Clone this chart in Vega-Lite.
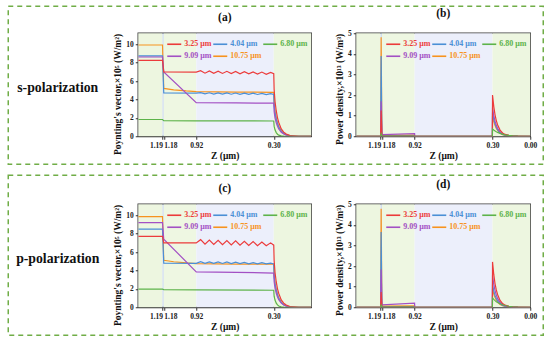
{
"$schema": "https://vega.github.io/schema/vega-lite/v6.json",
"padding": {"left": 7.25, "top": 5.25, "right": 0, "bottom": 0},
"background": "white",
"config": {
 "font": "Liberation Serif",
 "axis": {"labelFont": "Liberation Serif", "labelFontWeight": "bold", "labelFontSize": 7.5, "labelColor": "#222", "titleFont": "Liberation Serif", "titleFontWeight": "bold", "titleFontSize": 9.5, "titleColor": "#111", "domainColor": "#333", "tickColor": "#333", "grid": false, "labelPadding": 2, "titlePadding": 3, "tickSize": 3},
 "axisY": {"titleAnchor": "end"},
 "title": {"font": "Liberation Serif", "fontWeight": "bold", "fontSize": 11.5, "color": "#111", "offset": 10},
 "legend": {"orient": "top-right", "direction": "horizontal", "offset": 3, "columns": 3, "title": null, "symbolType": "stroke", "symbolSize": 196, "symbolStrokeWidth": 1.6, "labelFont": "Liberation Serif", "labelFontSize": 8, "labelFontWeight": "bold", "labelOffset": 2, "columnPadding": -10, "rowPadding": 0, "padding": 0,
  "labelColor": {"expr": "['#ec3b3b','#4a8fd6','#5db34a','#a350c4','#f7931e'][indexof(['3.25 μm','4.04 μm','6.80 μm','9.09 μm','10.75 μm'], datum.value)]"}}
},
"datasets": {
 "regions": [
  {"reg": "inc", "z1": 1.384, "z2": 1.19},
  {"reg": "thin", "z1": 1.19, "z2": 1.18},
  {"reg": "l2", "z1": 1.18, "z2": 0.92},
  {"reg": "l3", "z1": 0.92, "z2": 0.3},
  {"reg": "sub", "z1": 0.3, "z2": 0}
 ],
 "lines": [
  {"p":"a","s":"10.75 μm","z":1.384,"v":9.92},{"p":"a","s":"10.75 μm","z":1.19,"v":9.92},{"p":"a","s":"10.75 μm","z":1.18,"v":5.2},{"p":"a","s":"10.75 μm","z":1.1,"v":5.05},{"p":"a","s":"10.75 μm","z":1.0,"v":4.93},{"p":"a","s":"10.75 μm","z":0.92,"v":4.86},{"p":"a","s":"10.75 μm","z":0.6,"v":4.8},{"p":"a","s":"10.75 μm","z":0.3,"v":4.78},{"p":"a","s":"10.75 μm","z":0.297,"v":3.6},{"p":"a","s":"10.75 μm","z":0.29,"v":2.7},{"p":"a","s":"10.75 μm","z":0.28,"v":1.95},{"p":"a","s":"10.75 μm","z":0.27,"v":1.45},{"p":"a","s":"10.75 μm","z":0.26,"v":1.05},{"p":"a","s":"10.75 μm","z":0.24,"v":0.58},{"p":"a","s":"10.75 μm","z":0.22,"v":0.32},{"p":"a","s":"10.75 μm","z":0.2,"v":0.17},{"p":"a","s":"10.75 μm","z":0.17,"v":0.06},{"p":"a","s":"10.75 μm","z":0.14,"v":0.02},{"p":"a","s":"10.75 μm","z":0.1,"v":0},{"p":"a","s":"10.75 μm","z":0,"v":0},
  {"p":"a","s":"4.04 μm","z":1.384,"v":8.75},{"p":"a","s":"4.04 μm","z":1.19,"v":8.75},{"p":"a","s":"4.04 μm","z":1.18,"v":4.72},{"p":"a","s":"4.04 μm","z":0.92,"v":4.68},{"p":"a","s":"4.04 μm","z":0.885,"v":4.74},{"p":"a","s":"4.04 μm","z":0.85,"v":4.6},{"p":"a","s":"4.04 μm","z":0.815,"v":4.73},{"p":"a","s":"4.04 μm","z":0.78,"v":4.59},{"p":"a","s":"4.04 μm","z":0.745,"v":4.72},{"p":"a","s":"4.04 μm","z":0.71,"v":4.58},{"p":"a","s":"4.04 μm","z":0.675,"v":4.71},{"p":"a","s":"4.04 μm","z":0.64,"v":4.57},{"p":"a","s":"4.04 μm","z":0.605,"v":4.7},{"p":"a","s":"4.04 μm","z":0.57,"v":4.56},{"p":"a","s":"4.04 μm","z":0.535,"v":4.69},{"p":"a","s":"4.04 μm","z":0.5,"v":4.55},{"p":"a","s":"4.04 μm","z":0.465,"v":4.68},{"p":"a","s":"4.04 μm","z":0.43,"v":4.54},{"p":"a","s":"4.04 μm","z":0.395,"v":4.67},{"p":"a","s":"4.04 μm","z":0.36,"v":4.53},{"p":"a","s":"4.04 μm","z":0.325,"v":4.64},{"p":"a","s":"4.04 μm","z":0.3,"v":4.55},{"p":"a","s":"4.04 μm","z":0.297,"v":3.4},{"p":"a","s":"4.04 μm","z":0.29,"v":2.55},{"p":"a","s":"4.04 μm","z":0.28,"v":1.85},{"p":"a","s":"4.04 μm","z":0.27,"v":1.37},{"p":"a","s":"4.04 μm","z":0.26,"v":1.0},{"p":"a","s":"4.04 μm","z":0.24,"v":0.55},{"p":"a","s":"4.04 μm","z":0.22,"v":0.3},{"p":"a","s":"4.04 μm","z":0.2,"v":0.16},{"p":"a","s":"4.04 μm","z":0.17,"v":0.055},{"p":"a","s":"4.04 μm","z":0.14,"v":0.018},{"p":"a","s":"4.04 μm","z":0.1,"v":0},{"p":"a","s":"4.04 μm","z":0,"v":0},
  {"p":"a","s":"9.09 μm","z":1.384,"v":8.62},{"p":"a","s":"9.09 μm","z":1.19,"v":8.62},{"p":"a","s":"9.09 μm","z":1.18,"v":7.0},{"p":"a","s":"9.09 μm","z":0.92,"v":3.66},{"p":"a","s":"9.09 μm","z":0.6,"v":3.62},{"p":"a","s":"9.09 μm","z":0.3,"v":3.6},{"p":"a","s":"9.09 μm","z":0.297,"v":2.7},{"p":"a","s":"9.09 μm","z":0.29,"v":2.0},{"p":"a","s":"9.09 μm","z":0.28,"v":1.47},{"p":"a","s":"9.09 μm","z":0.27,"v":1.08},{"p":"a","s":"9.09 μm","z":0.26,"v":0.8},{"p":"a","s":"9.09 μm","z":0.24,"v":0.43},{"p":"a","s":"9.09 μm","z":0.22,"v":0.24},{"p":"a","s":"9.09 μm","z":0.2,"v":0.13},{"p":"a","s":"9.09 μm","z":0.17,"v":0.045},{"p":"a","s":"9.09 μm","z":0.14,"v":0.015},{"p":"a","s":"9.09 μm","z":0.1,"v":0},{"p":"a","s":"9.09 μm","z":0,"v":0},
  {"p":"a","s":"3.25 μm","z":1.384,"v":8.25},{"p":"a","s":"3.25 μm","z":1.19,"v":8.25},{"p":"a","s":"3.25 μm","z":1.18,"v":7.0},{"p":"a","s":"3.25 μm","z":0.92,"v":6.97},{"p":"a","s":"3.25 μm","z":0.885,"v":7.12},{"p":"a","s":"3.25 μm","z":0.85,"v":6.86},{"p":"a","s":"3.25 μm","z":0.815,"v":7.1},{"p":"a","s":"3.25 μm","z":0.78,"v":6.85},{"p":"a","s":"3.25 μm","z":0.745,"v":7.08},{"p":"a","s":"3.25 μm","z":0.71,"v":6.83},{"p":"a","s":"3.25 μm","z":0.675,"v":7.06},{"p":"a","s":"3.25 μm","z":0.64,"v":6.82},{"p":"a","s":"3.25 μm","z":0.605,"v":7.04},{"p":"a","s":"3.25 μm","z":0.57,"v":6.8},{"p":"a","s":"3.25 μm","z":0.535,"v":7.02},{"p":"a","s":"3.25 μm","z":0.5,"v":6.78},{"p":"a","s":"3.25 μm","z":0.465,"v":7.0},{"p":"a","s":"3.25 μm","z":0.43,"v":6.76},{"p":"a","s":"3.25 μm","z":0.395,"v":6.98},{"p":"a","s":"3.25 μm","z":0.36,"v":6.74},{"p":"a","s":"3.25 μm","z":0.325,"v":6.95},{"p":"a","s":"3.25 μm","z":0.3,"v":6.8},{"p":"a","s":"3.25 μm","z":0.297,"v":5.1},{"p":"a","s":"3.25 μm","z":0.29,"v":3.8},{"p":"a","s":"3.25 μm","z":0.28,"v":2.75},{"p":"a","s":"3.25 μm","z":0.27,"v":2.0},{"p":"a","s":"3.25 μm","z":0.26,"v":1.5},{"p":"a","s":"3.25 μm","z":0.24,"v":0.8},{"p":"a","s":"3.25 μm","z":0.22,"v":0.45},{"p":"a","s":"3.25 μm","z":0.2,"v":0.24},{"p":"a","s":"3.25 μm","z":0.17,"v":0.08},{"p":"a","s":"3.25 μm","z":0.14,"v":0.03},{"p":"a","s":"3.25 μm","z":0.1,"v":0},{"p":"a","s":"3.25 μm","z":0,"v":0},
  {"p":"a","s":"6.80 μm","z":1.384,"v":1.82},{"p":"a","s":"6.80 μm","z":1.19,"v":1.82},{"p":"a","s":"6.80 μm","z":1.18,"v":1.7},{"p":"a","s":"6.80 μm","z":0.92,"v":1.68},{"p":"a","s":"6.80 μm","z":0.3,"v":1.66},{"p":"a","s":"6.80 μm","z":0.297,"v":1.1},{"p":"a","s":"6.80 μm","z":0.29,"v":0.7},{"p":"a","s":"6.80 μm","z":0.28,"v":0.4},{"p":"a","s":"6.80 μm","z":0.27,"v":0.22},{"p":"a","s":"6.80 μm","z":0.26,"v":0.12},{"p":"a","s":"6.80 μm","z":0.24,"v":0.04},{"p":"a","s":"6.80 μm","z":0.22,"v":0.01},{"p":"a","s":"6.80 μm","z":0.2,"v":0},{"p":"a","s":"6.80 μm","z":0,"v":0},

  {"p":"c","s":"10.75 μm","z":1.384,"v":9.85},{"p":"c","s":"10.75 μm","z":1.19,"v":9.85},{"p":"c","s":"10.75 μm","z":1.18,"v":5.1},{"p":"c","s":"10.75 μm","z":1.1,"v":4.95},{"p":"c","s":"10.75 μm","z":1.0,"v":4.82},{"p":"c","s":"10.75 μm","z":0.92,"v":4.75},{"p":"c","s":"10.75 μm","z":0.6,"v":4.7},{"p":"c","s":"10.75 μm","z":0.3,"v":4.68},{"p":"c","s":"10.75 μm","z":0.297,"v":3.5},{"p":"c","s":"10.75 μm","z":0.29,"v":2.6},{"p":"c","s":"10.75 μm","z":0.28,"v":1.9},{"p":"c","s":"10.75 μm","z":0.27,"v":1.4},{"p":"c","s":"10.75 μm","z":0.26,"v":1.03},{"p":"c","s":"10.75 μm","z":0.24,"v":0.56},{"p":"c","s":"10.75 μm","z":0.22,"v":0.31},{"p":"c","s":"10.75 μm","z":0.2,"v":0.16},{"p":"c","s":"10.75 μm","z":0.17,"v":0.056},{"p":"c","s":"10.75 μm","z":0.14,"v":0.019},{"p":"c","s":"10.75 μm","z":0.1,"v":0},{"p":"c","s":"10.75 μm","z":0,"v":0},
  {"p":"c","s":"4.04 μm","z":1.384,"v":8.5},{"p":"c","s":"4.04 μm","z":1.19,"v":8.5},{"p":"c","s":"4.04 μm","z":1.18,"v":4.8},{"p":"c","s":"4.04 μm","z":0.92,"v":4.78},{"p":"c","s":"4.04 μm","z":0.885,"v":4.95},{"p":"c","s":"4.04 μm","z":0.85,"v":4.78},{"p":"c","s":"4.04 μm","z":0.815,"v":4.94},{"p":"c","s":"4.04 μm","z":0.78,"v":4.77},{"p":"c","s":"4.04 μm","z":0.745,"v":4.93},{"p":"c","s":"4.04 μm","z":0.71,"v":4.76},{"p":"c","s":"4.04 μm","z":0.675,"v":4.92},{"p":"c","s":"4.04 μm","z":0.64,"v":4.75},{"p":"c","s":"4.04 μm","z":0.605,"v":4.9},{"p":"c","s":"4.04 μm","z":0.57,"v":4.74},{"p":"c","s":"4.04 μm","z":0.535,"v":4.88},{"p":"c","s":"4.04 μm","z":0.5,"v":4.73},{"p":"c","s":"4.04 μm","z":0.465,"v":4.86},{"p":"c","s":"4.04 μm","z":0.43,"v":4.72},{"p":"c","s":"4.04 μm","z":0.395,"v":4.84},{"p":"c","s":"4.04 μm","z":0.36,"v":4.71},{"p":"c","s":"4.04 μm","z":0.325,"v":4.8},{"p":"c","s":"4.04 μm","z":0.3,"v":4.7},{"p":"c","s":"4.04 μm","z":0.297,"v":3.45},{"p":"c","s":"4.04 μm","z":0.29,"v":2.55},{"p":"c","s":"4.04 μm","z":0.28,"v":1.85},{"p":"c","s":"4.04 μm","z":0.27,"v":1.35},{"p":"c","s":"4.04 μm","z":0.26,"v":0.98},{"p":"c","s":"4.04 μm","z":0.24,"v":0.52},{"p":"c","s":"4.04 μm","z":0.22,"v":0.28},{"p":"c","s":"4.04 μm","z":0.2,"v":0.14},{"p":"c","s":"4.04 μm","z":0.17,"v":0.05},{"p":"c","s":"4.04 μm","z":0.14,"v":0.015},{"p":"c","s":"4.04 μm","z":0.1,"v":0},{"p":"c","s":"4.04 μm","z":0,"v":0},
  {"p":"c","s":"9.09 μm","z":1.384,"v":9.2},{"p":"c","s":"9.09 μm","z":1.19,"v":9.2},{"p":"c","s":"9.09 μm","z":1.18,"v":7.4},{"p":"c","s":"9.09 μm","z":0.92,"v":3.85},{"p":"c","s":"9.09 μm","z":0.6,"v":3.8},{"p":"c","s":"9.09 μm","z":0.3,"v":3.72},{"p":"c","s":"9.09 μm","z":0.297,"v":2.8},{"p":"c","s":"9.09 μm","z":0.29,"v":2.08},{"p":"c","s":"9.09 μm","z":0.28,"v":1.52},{"p":"c","s":"9.09 μm","z":0.27,"v":1.12},{"p":"c","s":"9.09 μm","z":0.26,"v":0.82},{"p":"c","s":"9.09 μm","z":0.24,"v":0.45},{"p":"c","s":"9.09 μm","z":0.22,"v":0.25},{"p":"c","s":"9.09 μm","z":0.2,"v":0.13},{"p":"c","s":"9.09 μm","z":0.17,"v":0.045},{"p":"c","s":"9.09 μm","z":0.14,"v":0.015},{"p":"c","s":"9.09 μm","z":0.1,"v":0},{"p":"c","s":"9.09 μm","z":0,"v":0},
  {"p":"c","s":"3.25 μm","z":1.384,"v":7.7},{"p":"c","s":"3.25 μm","z":1.19,"v":7.7},{"p":"c","s":"3.25 μm","z":1.18,"v":7.0},{"p":"c","s":"3.25 μm","z":0.92,"v":7.0},{"p":"c","s":"3.25 μm","z":0.885,"v":7.35},{"p":"c","s":"3.25 μm","z":0.85,"v":6.85},{"p":"c","s":"3.25 μm","z":0.815,"v":7.3},{"p":"c","s":"3.25 μm","z":0.78,"v":6.83},{"p":"c","s":"3.25 μm","z":0.745,"v":7.28},{"p":"c","s":"3.25 μm","z":0.71,"v":6.8},{"p":"c","s":"3.25 μm","z":0.675,"v":7.25},{"p":"c","s":"3.25 μm","z":0.64,"v":6.78},{"p":"c","s":"3.25 μm","z":0.605,"v":7.22},{"p":"c","s":"3.25 μm","z":0.57,"v":6.75},{"p":"c","s":"3.25 μm","z":0.535,"v":7.18},{"p":"c","s":"3.25 μm","z":0.5,"v":6.72},{"p":"c","s":"3.25 μm","z":0.465,"v":7.15},{"p":"c","s":"3.25 μm","z":0.43,"v":6.7},{"p":"c","s":"3.25 μm","z":0.395,"v":7.1},{"p":"c","s":"3.25 μm","z":0.36,"v":6.68},{"p":"c","s":"3.25 μm","z":0.325,"v":7.0},{"p":"c","s":"3.25 μm","z":0.3,"v":6.75},{"p":"c","s":"3.25 μm","z":0.297,"v":5.1},{"p":"c","s":"3.25 μm","z":0.29,"v":3.8},{"p":"c","s":"3.25 μm","z":0.28,"v":2.75},{"p":"c","s":"3.25 μm","z":0.27,"v":2.0},{"p":"c","s":"3.25 μm","z":0.26,"v":1.5},{"p":"c","s":"3.25 μm","z":0.24,"v":0.8},{"p":"c","s":"3.25 μm","z":0.22,"v":0.45},{"p":"c","s":"3.25 μm","z":0.2,"v":0.24},{"p":"c","s":"3.25 μm","z":0.17,"v":0.08},{"p":"c","s":"3.25 μm","z":0.14,"v":0.03},{"p":"c","s":"3.25 μm","z":0.1,"v":0},{"p":"c","s":"3.25 μm","z":0,"v":0},
  {"p":"c","s":"6.80 μm","z":1.384,"v":1.97},{"p":"c","s":"6.80 μm","z":1.19,"v":1.97},{"p":"c","s":"6.80 μm","z":1.18,"v":1.92},{"p":"c","s":"6.80 μm","z":0.92,"v":1.9},{"p":"c","s":"6.80 μm","z":0.3,"v":1.85},{"p":"c","s":"6.80 μm","z":0.297,"v":1.2},{"p":"c","s":"6.80 μm","z":0.29,"v":0.78},{"p":"c","s":"6.80 μm","z":0.28,"v":0.45},{"p":"c","s":"6.80 μm","z":0.27,"v":0.25},{"p":"c","s":"6.80 μm","z":0.26,"v":0.13},{"p":"c","s":"6.80 μm","z":0.24,"v":0.045},{"p":"c","s":"6.80 μm","z":0.22,"v":0.012},{"p":"c","s":"6.80 μm","z":0.2,"v":0},{"p":"c","s":"6.80 μm","z":0,"v":0},

  {"p":"b","s":"10.75 μm","z":1.384,"v":0},{"p":"b","s":"10.75 μm","z":1.19,"v":0},{"p":"b","s":"10.75 μm","z":1.186,"v":4.8},{"p":"b","s":"10.75 μm","z":1.18,"v":0.04},{"p":"b","s":"10.75 μm","z":0.92,"v":0.05},{"p":"b","s":"10.75 μm","z":0.919,"v":0},{"p":"b","s":"10.75 μm","z":0.301,"v":0},{"p":"b","s":"10.75 μm","z":0.3,"v":1.0},{"p":"b","s":"10.75 μm","z":0.29,"v":0.72},{"p":"b","s":"10.75 μm","z":0.28,"v":0.52},{"p":"b","s":"10.75 μm","z":0.27,"v":0.38},{"p":"b","s":"10.75 μm","z":0.26,"v":0.28},{"p":"b","s":"10.75 μm","z":0.24,"v":0.15},{"p":"b","s":"10.75 μm","z":0.22,"v":0.08},{"p":"b","s":"10.75 μm","z":0.2,"v":0.045},{"p":"b","s":"10.75 μm","z":0.17,"v":0.02},{"p":"b","s":"10.75 μm","z":0.14,"v":0.008},{"p":"b","s":"10.75 μm","z":0.1,"v":0.002},{"p":"b","s":"10.75 μm","z":0,"v":0},
  {"p":"b","s":"4.04 μm","z":1.384,"v":0},{"p":"b","s":"4.04 μm","z":1.19,"v":0},{"p":"b","s":"4.04 μm","z":1.186,"v":3.9},{"p":"b","s":"4.04 μm","z":1.18,"v":0.02},{"p":"b","s":"4.04 μm","z":0.92,"v":0.02},{"p":"b","s":"4.04 μm","z":0.919,"v":0},{"p":"b","s":"4.04 μm","z":0.301,"v":0},{"p":"b","s":"4.04 μm","z":0.3,"v":1.15},{"p":"b","s":"4.04 μm","z":0.29,"v":0.83},{"p":"b","s":"4.04 μm","z":0.28,"v":0.6},{"p":"b","s":"4.04 μm","z":0.27,"v":0.44},{"p":"b","s":"4.04 μm","z":0.26,"v":0.32},{"p":"b","s":"4.04 μm","z":0.24,"v":0.17},{"p":"b","s":"4.04 μm","z":0.22,"v":0.09},{"p":"b","s":"4.04 μm","z":0.2,"v":0.052},{"p":"b","s":"4.04 μm","z":0.17,"v":0.023},{"p":"b","s":"4.04 μm","z":0.14,"v":0.009},{"p":"b","s":"4.04 μm","z":0.1,"v":0.002},{"p":"b","s":"4.04 μm","z":0,"v":0},
  {"p":"b","s":"9.09 μm","z":1.384,"v":0},{"p":"b","s":"9.09 μm","z":1.19,"v":0},{"p":"b","s":"9.09 μm","z":1.186,"v":1.7},{"p":"b","s":"9.09 μm","z":1.18,"v":0.08},{"p":"b","s":"9.09 μm","z":0.92,"v":0.13},{"p":"b","s":"9.09 μm","z":0.919,"v":0},{"p":"b","s":"9.09 μm","z":0.301,"v":0},{"p":"b","s":"9.09 μm","z":0.3,"v":1.4},{"p":"b","s":"9.09 μm","z":0.29,"v":1.0},{"p":"b","s":"9.09 μm","z":0.28,"v":0.73},{"p":"b","s":"9.09 μm","z":0.27,"v":0.53},{"p":"b","s":"9.09 μm","z":0.26,"v":0.39},{"p":"b","s":"9.09 μm","z":0.24,"v":0.21},{"p":"b","s":"9.09 μm","z":0.22,"v":0.11},{"p":"b","s":"9.09 μm","z":0.2,"v":0.063},{"p":"b","s":"9.09 μm","z":0.17,"v":0.028},{"p":"b","s":"9.09 μm","z":0.14,"v":0.011},{"p":"b","s":"9.09 μm","z":0.1,"v":0.003},{"p":"b","s":"9.09 μm","z":0,"v":0},
  {"p":"b","s":"3.25 μm","z":1.384,"v":0},{"p":"b","s":"3.25 μm","z":1.19,"v":0},{"p":"b","s":"3.25 μm","z":1.186,"v":1.25},{"p":"b","s":"3.25 μm","z":1.18,"v":0.01},{"p":"b","s":"3.25 μm","z":0.92,"v":0.01},{"p":"b","s":"3.25 μm","z":0.919,"v":0},{"p":"b","s":"3.25 μm","z":0.301,"v":0},{"p":"b","s":"3.25 μm","z":0.3,"v":2.0},{"p":"b","s":"3.25 μm","z":0.29,"v":1.44},{"p":"b","s":"3.25 μm","z":0.28,"v":1.04},{"p":"b","s":"3.25 μm","z":0.27,"v":0.76},{"p":"b","s":"3.25 μm","z":0.26,"v":0.56},{"p":"b","s":"3.25 μm","z":0.24,"v":0.3},{"p":"b","s":"3.25 μm","z":0.22,"v":0.16},{"p":"b","s":"3.25 μm","z":0.2,"v":0.09},{"p":"b","s":"3.25 μm","z":0.17,"v":0.04},{"p":"b","s":"3.25 μm","z":0.14,"v":0.016},{"p":"b","s":"3.25 μm","z":0.1,"v":0.004},{"p":"b","s":"3.25 μm","z":0,"v":0},
  {"p":"b","s":"6.80 μm","z":1.384,"v":0},{"p":"b","s":"6.80 μm","z":1.19,"v":0},{"p":"b","s":"6.80 μm","z":1.186,"v":0.12},{"p":"b","s":"6.80 μm","z":1.18,"v":0.01},{"p":"b","s":"6.80 μm","z":0.92,"v":0.01},{"p":"b","s":"6.80 μm","z":0.919,"v":0},{"p":"b","s":"6.80 μm","z":0.301,"v":0},{"p":"b","s":"6.80 μm","z":0.3,"v":0.35},{"p":"b","s":"6.80 μm","z":0.29,"v":0.3},{"p":"b","s":"6.80 μm","z":0.28,"v":0.26},{"p":"b","s":"6.80 μm","z":0.27,"v":0.22},{"p":"b","s":"6.80 μm","z":0.26,"v":0.19},{"p":"b","s":"6.80 μm","z":0.24,"v":0.14},{"p":"b","s":"6.80 μm","z":0.22,"v":0.1},{"p":"b","s":"6.80 μm","z":0.2,"v":0.07},{"p":"b","s":"6.80 μm","z":0.17,"v":0.04},{"p":"b","s":"6.80 μm","z":0.14,"v":0.02},{"p":"b","s":"6.80 μm","z":0.1,"v":0.007},{"p":"b","s":"6.80 μm","z":0,"v":0},

  {"p":"d","s":"10.75 μm","z":1.384,"v":0},{"p":"d","s":"10.75 μm","z":1.19,"v":0},{"p":"d","s":"10.75 μm","z":1.186,"v":4.78},{"p":"d","s":"10.75 μm","z":1.18,"v":0.05},{"p":"d","s":"10.75 μm","z":0.92,"v":0.07},{"p":"d","s":"10.75 μm","z":0.919,"v":0},{"p":"d","s":"10.75 μm","z":0.301,"v":0},{"p":"d","s":"10.75 μm","z":0.3,"v":0.9},{"p":"d","s":"10.75 μm","z":0.29,"v":0.65},{"p":"d","s":"10.75 μm","z":0.28,"v":0.47},{"p":"d","s":"10.75 μm","z":0.27,"v":0.34},{"p":"d","s":"10.75 μm","z":0.26,"v":0.25},{"p":"d","s":"10.75 μm","z":0.24,"v":0.135},{"p":"d","s":"10.75 μm","z":0.22,"v":0.072},{"p":"d","s":"10.75 μm","z":0.2,"v":0.04},{"p":"d","s":"10.75 μm","z":0.17,"v":0.018},{"p":"d","s":"10.75 μm","z":0.14,"v":0.007},{"p":"d","s":"10.75 μm","z":0.1,"v":0.002},{"p":"d","s":"10.75 μm","z":0,"v":0},
  {"p":"d","s":"4.04 μm","z":1.384,"v":0},{"p":"d","s":"4.04 μm","z":1.19,"v":0},{"p":"d","s":"4.04 μm","z":1.186,"v":3.65},{"p":"d","s":"4.04 μm","z":1.18,"v":0.02},{"p":"d","s":"4.04 μm","z":0.92,"v":0.03},{"p":"d","s":"4.04 μm","z":0.919,"v":0},{"p":"d","s":"4.04 μm","z":0.301,"v":0},{"p":"d","s":"4.04 μm","z":0.3,"v":1.1},{"p":"d","s":"4.04 μm","z":0.29,"v":0.79},{"p":"d","s":"4.04 μm","z":0.28,"v":0.57},{"p":"d","s":"4.04 μm","z":0.27,"v":0.42},{"p":"d","s":"4.04 μm","z":0.26,"v":0.31},{"p":"d","s":"4.04 μm","z":0.24,"v":0.165},{"p":"d","s":"4.04 μm","z":0.22,"v":0.088},{"p":"d","s":"4.04 μm","z":0.2,"v":0.05},{"p":"d","s":"4.04 μm","z":0.17,"v":0.022},{"p":"d","s":"4.04 μm","z":0.14,"v":0.009},{"p":"d","s":"4.04 μm","z":0.1,"v":0.002},{"p":"d","s":"4.04 μm","z":0,"v":0},
  {"p":"d","s":"9.09 μm","z":1.384,"v":0},{"p":"d","s":"9.09 μm","z":1.19,"v":0},{"p":"d","s":"9.09 μm","z":1.186,"v":1.83},{"p":"d","s":"9.09 μm","z":1.18,"v":0.12},{"p":"d","s":"9.09 μm","z":0.92,"v":0.2},{"p":"d","s":"9.09 μm","z":0.919,"v":0},{"p":"d","s":"9.09 μm","z":0.301,"v":0},{"p":"d","s":"9.09 μm","z":0.3,"v":1.55},{"p":"d","s":"9.09 μm","z":0.29,"v":1.12},{"p":"d","s":"9.09 μm","z":0.28,"v":0.81},{"p":"d","s":"9.09 μm","z":0.27,"v":0.59},{"p":"d","s":"9.09 μm","z":0.26,"v":0.43},{"p":"d","s":"9.09 μm","z":0.24,"v":0.23},{"p":"d","s":"9.09 μm","z":0.22,"v":0.12},{"p":"d","s":"9.09 μm","z":0.2,"v":0.07},{"p":"d","s":"9.09 μm","z":0.17,"v":0.031},{"p":"d","s":"9.09 μm","z":0.14,"v":0.012},{"p":"d","s":"9.09 μm","z":0.1,"v":0.003},{"p":"d","s":"9.09 μm","z":0,"v":0},
  {"p":"d","s":"3.25 μm","z":1.384,"v":0},{"p":"d","s":"3.25 μm","z":1.19,"v":0},{"p":"d","s":"3.25 μm","z":1.186,"v":0.74},{"p":"d","s":"3.25 μm","z":1.18,"v":0.01},{"p":"d","s":"3.25 μm","z":0.92,"v":0.01},{"p":"d","s":"3.25 μm","z":0.919,"v":0},{"p":"d","s":"3.25 μm","z":0.301,"v":0},{"p":"d","s":"3.25 μm","z":0.3,"v":2.2},{"p":"d","s":"3.25 μm","z":0.29,"v":1.58},{"p":"d","s":"3.25 μm","z":0.28,"v":1.14},{"p":"d","s":"3.25 μm","z":0.27,"v":0.84},{"p":"d","s":"3.25 μm","z":0.26,"v":0.62},{"p":"d","s":"3.25 μm","z":0.24,"v":0.33},{"p":"d","s":"3.25 μm","z":0.22,"v":0.18},{"p":"d","s":"3.25 μm","z":0.2,"v":0.1},{"p":"d","s":"3.25 μm","z":0.17,"v":0.044},{"p":"d","s":"3.25 μm","z":0.14,"v":0.018},{"p":"d","s":"3.25 μm","z":0.1,"v":0.004},{"p":"d","s":"3.25 μm","z":0,"v":0},
  {"p":"d","s":"6.80 μm","z":1.384,"v":0},{"p":"d","s":"6.80 μm","z":1.19,"v":0},{"p":"d","s":"6.80 μm","z":1.186,"v":0.1},{"p":"d","s":"6.80 μm","z":1.18,"v":0.01},{"p":"d","s":"6.80 μm","z":0.92,"v":0.01},{"p":"d","s":"6.80 μm","z":0.919,"v":0},{"p":"d","s":"6.80 μm","z":0.301,"v":0},{"p":"d","s":"6.80 μm","z":0.3,"v":0.45},{"p":"d","s":"6.80 μm","z":0.29,"v":0.38},{"p":"d","s":"6.80 μm","z":0.28,"v":0.32},{"p":"d","s":"6.80 μm","z":0.27,"v":0.27},{"p":"d","s":"6.80 μm","z":0.26,"v":0.23},{"p":"d","s":"6.80 μm","z":0.24,"v":0.17},{"p":"d","s":"6.80 μm","z":0.22,"v":0.12},{"p":"d","s":"6.80 μm","z":0.2,"v":0.085},{"p":"d","s":"6.80 μm","z":0.17,"v":0.05},{"p":"d","s":"6.80 μm","z":0.14,"v":0.025},{"p":"d","s":"6.80 μm","z":0.1,"v":0.008},{"p":"d","s":"6.80 μm","z":0,"v":0}
 ]
},
"spacing": 9,
"resolve": {"legend": {"stroke": "independent"}},
"vconcat": [
 {
  "columns": 1,
  "align": "none",
  "spacing": -159,
  "resolve": {"legend": {"stroke": "independent"}},
  "concat": [
   {"width": 535, "height": 158, "view": {"stroke": "#70ad47", "strokeWidth": 1.5, "strokeDash": [5, 4], "fill": null},
    "data": {"values": [{"t": ""}]}, "mark": {"type": "text"}, "encoding": {"text": {"field": "t"}}},
   {
    "spacing": 4,
    "resolve": {"legend": {"stroke": "independent"}},
    "hconcat": [
     {"width": 99, "height": 109, "view": {"stroke": null},
      "data": {"values": [{"t": "s-polarization"}]},
      "mark": {"type": "text", "fontSize": 13.75, "fontWeight": "bold", "font": "Liberation Serif", "color": "#111"},
      "encoding": {"text": {"field": "t"}, "x": {"field": "t", "type": "nominal", "axis": null}, "y": {"field": "t", "type": "nominal", "axis": null}}},
     {
      "spacing": 21,
      "resolve": {"legend": {"stroke": "independent"}},
      "hconcat": [
       {
        "width": 173, "height": 103,
        "title": {"text": "(a)"},
        "view": {"stroke": "#3a3a3a", "strokeWidth": 1.5},
        "layer": [
         {"data": {"name": "regions"}, "mark": {"type": "rect"},
          "encoding": {
           "x": {"field": "z1", "type": "quantitative", "scale": {"domain": [1.384, 0], "nice": false, "zero": false},
                 "axis": {"title": "Z (μm)", "values": [1.19, 1.18, 0.92, 0.3], "format": ".2f", "labelFlush": false, "labelOverlap": false,
                          "labelAlign": {"condition": [{"test": "datum.value == 1.19", "value": "right"}, {"test": "datum.value == 1.18", "value": "left"}], "value": "center"}, "titlePadding": 2}},
           "x2": {"field": "z2"},
           "fill": {"field": "reg", "type": "nominal", "scale": {"domain": ["inc", "thin", "l2", "l3", "sub"], "range": ["#edf6e0", "#c9d7ef", "#eef7e2", "#eceffb", "#edf6e0"]}, "legend": null}}},
         {"data": {"name": "lines"}, "transform": [{"filter": "datum.p == 'a'"}],
          "mark": {"type": "line", "strokeWidth": 1.2, "clip": true},
          "encoding": {
           "x": {"field": "z", "type": "quantitative"},
           "y": {"field": "v", "type": "quantitative", "scale": {"domain": [0, 11.2], "nice": false}, "axis": {"title": "Poynting's vector,×10⁵ (W/m²)", "values": [0, 2, 4, 6, 8, 10]}},
           "stroke": {"field": "s", "type": "nominal", "scale": {"domain": ["3.25 μm", "4.04 μm", "6.80 μm", "9.09 μm", "10.75 μm"], "range": ["#ec3b3b", "#4a8fd6", "#5db34a", "#a350c4", "#f7931e"]}, "legend": {}}}}
        ]
       },
       {
        "width": 174, "height": 103,
        "title": {"text": "(b)"},
        "view": {"stroke": "#3a3a3a", "strokeWidth": 1.5},
        "layer": [
         {"data": {"name": "regions"}, "mark": {"type": "rect"},
          "encoding": {
           "x": {"field": "z1", "type": "quantitative", "scale": {"domain": [1.384, 0], "nice": false, "zero": false},
                 "axis": {"title": "Z (μm)", "values": [1.19, 1.18, 0.92, 0.3, 0], "format": ".2f", "labelFlush": false, "labelOverlap": false,
                          "labelAlign": {"condition": [{"test": "datum.value == 1.19", "value": "right"}, {"test": "datum.value == 1.18", "value": "left"}], "value": "center"}, "titlePadding": 2}},
           "x2": {"field": "z2"},
           "fill": {"field": "reg", "type": "nominal", "scale": {"domain": ["inc", "thin", "l2", "l3", "sub"], "range": ["#edf6e0", "#c9d7ef", "#eef7e2", "#eceffb", "#edf6e0"]}, "legend": null}}},
         {"data": {"name": "lines"}, "transform": [{"filter": "datum.p == 'b'"}],
          "mark": {"type": "line", "strokeWidth": 1.2, "clip": true},
          "encoding": {
           "x": {"field": "z", "type": "quantitative"},
           "y": {"field": "v", "type": "quantitative", "scale": {"domain": [0, 5], "nice": false}, "axis": {"title": "Power density,×10¹³ (W/m³)", "values": [0, 1, 2, 3, 4, 5]}},
           "stroke": {"field": "s", "type": "nominal", "scale": {"domain": ["3.25 μm", "4.04 μm", "6.80 μm", "9.09 μm", "10.75 μm"], "range": ["#ec3b3b", "#4a8fd6", "#5db34a", "#a350c4", "#f7931e"]}, "legend": {}}}}
        ]
       }
      ]
     }
    ]
   }
  ]
 },
 {
  "columns": 1,
  "align": "none",
  "spacing": -159,
  "resolve": {"legend": {"stroke": "independent"}},
  "concat": [
   {"width": 535, "height": 160, "view": {"stroke": "#70ad47", "strokeWidth": 1.5, "strokeDash": [5, 4], "fill": null},
    "data": {"values": [{"t": ""}]}, "mark": {"type": "text"}, "encoding": {"text": {"field": "t"}}},
   {
    "spacing": 4,
    "resolve": {"legend": {"stroke": "independent"}},
    "hconcat": [
     {"width": 99, "height": 109, "view": {"stroke": null},
      "data": {"values": [{"t": "p-polarization"}]},
      "mark": {"type": "text", "fontSize": 13.75, "fontWeight": "bold", "font": "Liberation Serif", "color": "#111"},
      "encoding": {"text": {"field": "t"}, "x": {"field": "t", "type": "nominal", "axis": null}, "y": {"field": "t", "type": "nominal", "axis": null}}},
     {
      "spacing": 21,
      "resolve": {"legend": {"stroke": "independent"}},
      "hconcat": [
       {
        "width": 173, "height": 103,
        "title": {"text": "(c)"},
        "view": {"stroke": "#3a3a3a", "strokeWidth": 1.5},
        "layer": [
         {"data": {"name": "regions"}, "mark": {"type": "rect"},
          "encoding": {
           "x": {"field": "z1", "type": "quantitative", "scale": {"domain": [1.384, 0], "nice": false, "zero": false},
                 "axis": {"title": "Z (μm)", "values": [1.19, 1.18, 0.92, 0.3], "format": ".2f", "labelFlush": false, "labelOverlap": false,
                          "labelAlign": {"condition": [{"test": "datum.value == 1.19", "value": "right"}, {"test": "datum.value == 1.18", "value": "left"}], "value": "center"}, "titlePadding": 2}},
           "x2": {"field": "z2"},
           "fill": {"field": "reg", "type": "nominal", "scale": {"domain": ["inc", "thin", "l2", "l3", "sub"], "range": ["#edf6e0", "#c9d7ef", "#eef7e2", "#eceffb", "#edf6e0"]}, "legend": null}}},
         {"data": {"name": "lines"}, "transform": [{"filter": "datum.p == 'c'"}],
          "mark": {"type": "line", "strokeWidth": 1.2, "clip": true},
          "encoding": {
           "x": {"field": "z", "type": "quantitative"},
           "y": {"field": "v", "type": "quantitative", "scale": {"domain": [0, 11.2], "nice": false}, "axis": {"title": "Poynting's vector,×10⁵ (W/m²)", "values": [0, 2, 4, 6, 8, 10]}},
           "stroke": {"field": "s", "type": "nominal", "scale": {"domain": ["3.25 μm", "4.04 μm", "6.80 μm", "9.09 μm", "10.75 μm"], "range": ["#ec3b3b", "#4a8fd6", "#5db34a", "#a350c4", "#f7931e"]}, "legend": {}}}}
        ]
       },
       {
        "width": 174, "height": 103,
        "title": {"text": "(d)"},
        "view": {"stroke": "#3a3a3a", "strokeWidth": 1.5},
        "layer": [
         {"data": {"name": "regions"}, "mark": {"type": "rect"},
          "encoding": {
           "x": {"field": "z1", "type": "quantitative", "scale": {"domain": [1.384, 0], "nice": false, "zero": false},
                 "axis": {"title": "Z (μm)", "values": [1.19, 1.18, 0.92, 0.3, 0], "format": ".2f", "labelFlush": false, "labelOverlap": false,
                          "labelAlign": {"condition": [{"test": "datum.value == 1.19", "value": "right"}, {"test": "datum.value == 1.18", "value": "left"}], "value": "center"}, "titlePadding": 2}},
           "x2": {"field": "z2"},
           "fill": {"field": "reg", "type": "nominal", "scale": {"domain": ["inc", "thin", "l2", "l3", "sub"], "range": ["#edf6e0", "#c9d7ef", "#eef7e2", "#eceffb", "#edf6e0"]}, "legend": null}}},
         {"data": {"name": "lines"}, "transform": [{"filter": "datum.p == 'd'"}],
          "mark": {"type": "line", "strokeWidth": 1.2, "clip": true},
          "encoding": {
           "x": {"field": "z", "type": "quantitative"},
           "y": {"field": "v", "type": "quantitative", "scale": {"domain": [0, 5], "nice": false}, "axis": {"title": "Power density,×10¹³ (W/m³)", "values": [0, 1, 2, 3, 4, 5]}},
           "stroke": {"field": "s", "type": "nominal", "scale": {"domain": ["3.25 μm", "4.04 μm", "6.80 μm", "9.09 μm", "10.75 μm"], "range": ["#ec3b3b", "#4a8fd6", "#5db34a", "#a350c4", "#f7931e"]}, "legend": {}}}}
        ]
       }
      ]
     }
    ]
   }
  ]
 }
]
}
